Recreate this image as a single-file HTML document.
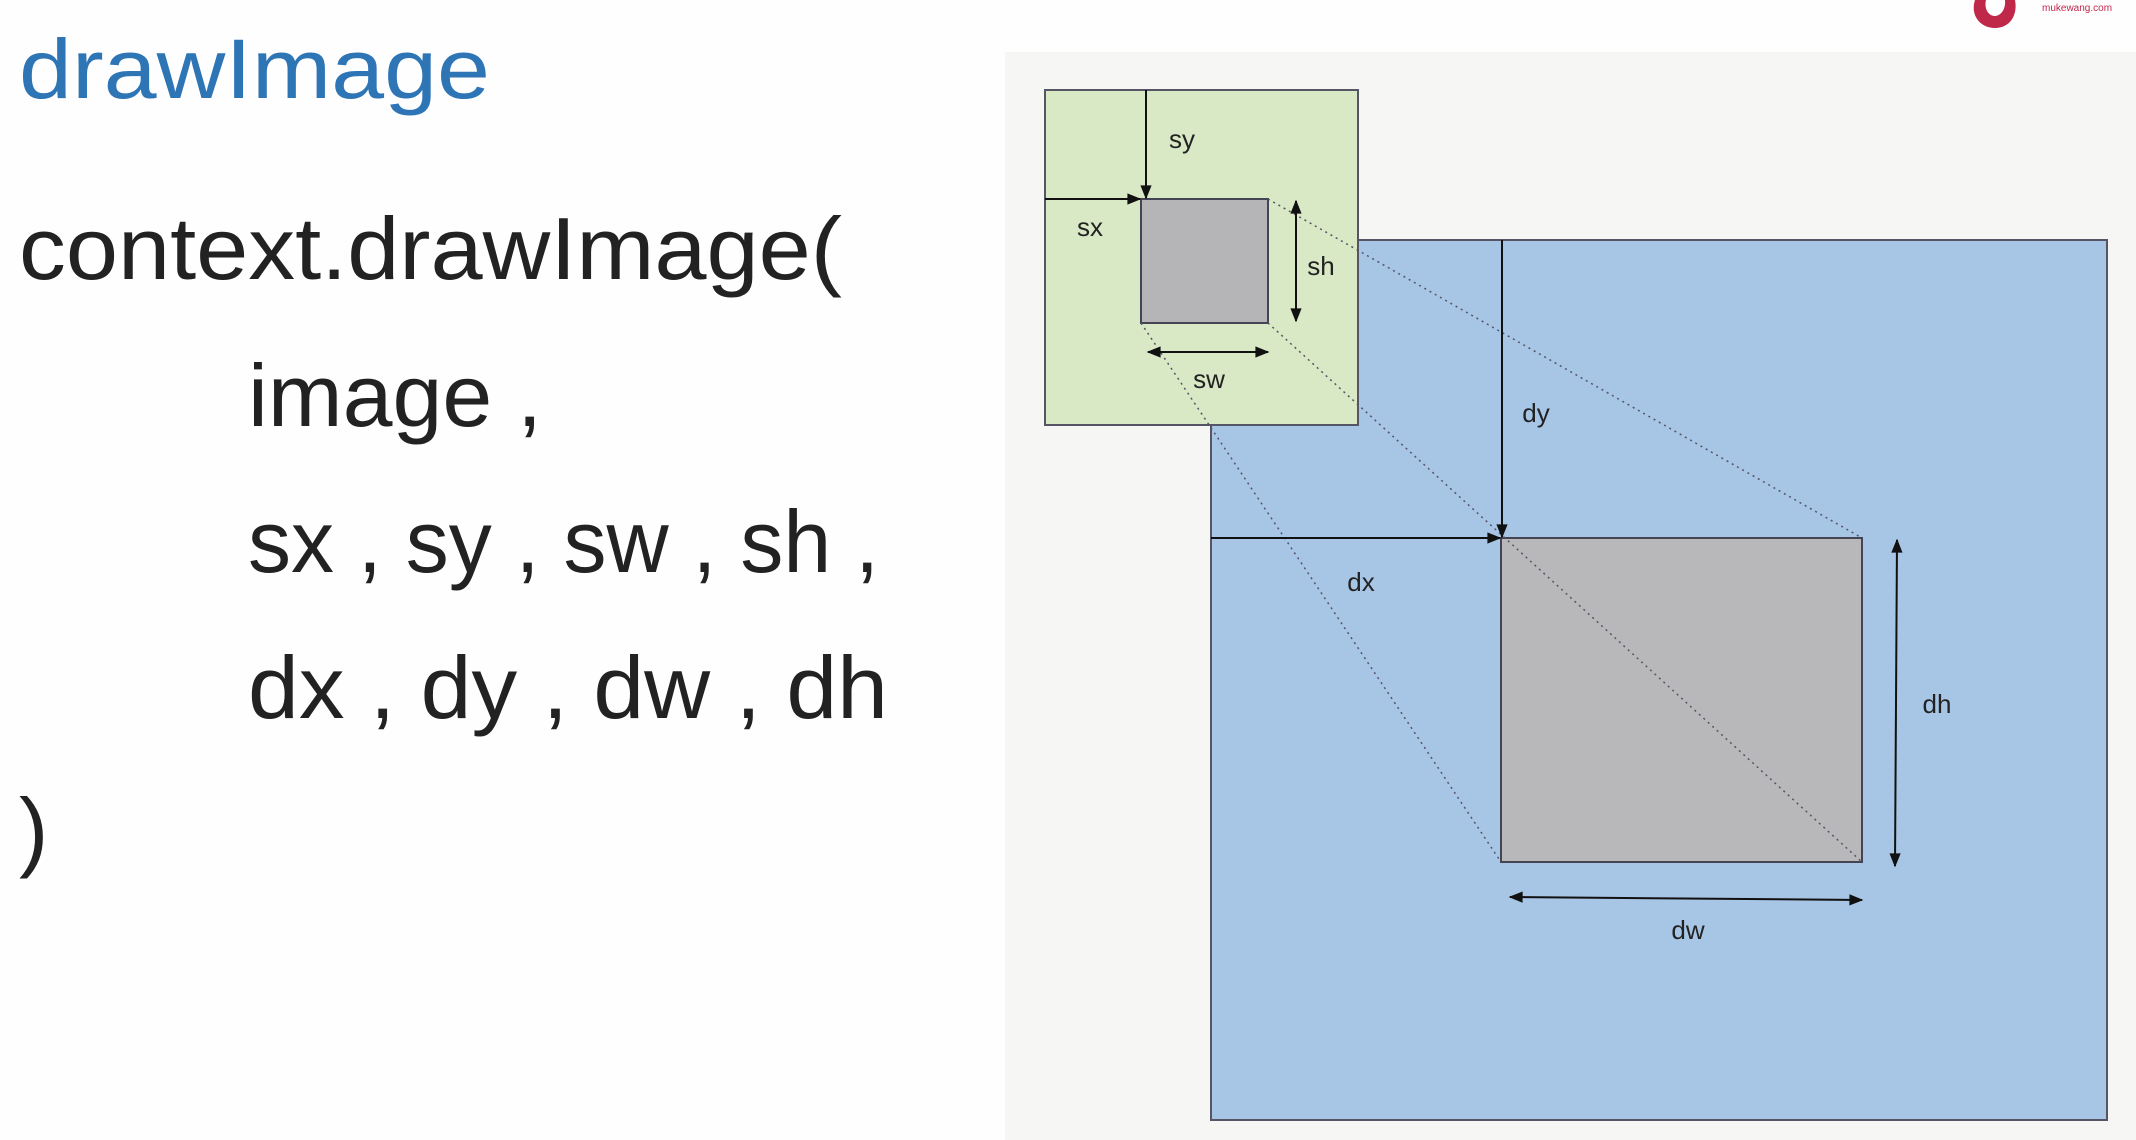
<!DOCTYPE html>
<html><head><meta charset="utf-8">
<style>
html,body{margin:0;padding:0;background:#fff;width:2136px;height:1140px;overflow:hidden}
svg{display:block}
text{font-family:"Liberation Sans","DejaVu Sans",sans-serif}
</style></head>
<body>
<svg width="2136" height="1140" viewBox="0 0 2136 1140">
<defs>
<marker id="ah" viewBox="0 0 10 10" refX="9" refY="5" markerWidth="16" markerHeight="14" orient="auto-start-reverse" markerUnits="userSpaceOnUse">
<path d="M0,1 L10,5 L0,9 z" fill="#111"/></marker>
</defs>
<rect width="2136" height="1140" fill="#fefefe"/>
<g fill="#222">
<text x="19" y="98" font-size="84" fill="#2e75b6" textLength="471" lengthAdjust="spacingAndGlyphs">drawImage</text>
<text x="19" y="279" font-size="88" textLength="823" lengthAdjust="spacingAndGlyphs">context.drawImage(</text>
<text x="248" y="426" font-size="88" textLength="294" lengthAdjust="spacingAndGlyphs">image ,</text>
<text x="248" y="572" font-size="88" textLength="631" lengthAdjust="spacingAndGlyphs">sx , sy , sw , sh ,</text>
<text x="248" y="718" font-size="88" textLength="640" lengthAdjust="spacingAndGlyphs">dx , dy , dw , dh</text>
<text x="19" y="860" font-size="88">)</text>
</g>
<g>
<path d="M1975,0 C1970,15 1980,28 1995,28 C2010,28 2018,15 2015,0 L2005,0 C2006,10 2000,16 1995,16 C1988,16 1984,8 1986,0 z" fill="#c0284a"/>
<text x="2042" y="11" font-size="10" fill="#c0284a">mukewang.com</text>
</g>
<rect x="1005" y="52" width="1131" height="1088" fill="#f6f6f5"/>
<g>
<rect x="1211" y="240" width="896" height="880" fill="#a7c5e5" stroke="#556" stroke-width="2"/>
<rect x="1045" y="90" width="313" height="335" fill="#d9e8c5" stroke="#556" stroke-width="2"/>
<rect x="1141" y="199" width="127" height="124" fill="#b5b5b8" stroke="#445" stroke-width="2"/>
<rect x="1501" y="538" width="361" height="324" fill="#b8b8ba" stroke="#445" stroke-width="2"/>
<g stroke="#556" stroke-width="1.5" stroke-dasharray="2,4">
<line x1="1268" y1="199" x2="1862" y2="538"/>
<line x1="1141" y1="323" x2="1501" y2="862"/>
<line x1="1268" y1="323" x2="1862" y2="862"/>
</g>
<g stroke="#111" stroke-width="2" fill="none">
<line x1="1146" y1="90" x2="1146" y2="198" marker-end="url(#ah)"/>
<line x1="1045" y1="199" x2="1140" y2="199" marker-end="url(#ah)"/>
<line x1="1296" y1="201" x2="1296" y2="321" marker-start="url(#ah)" marker-end="url(#ah)"/>
<line x1="1148" y1="352" x2="1268" y2="352" marker-start="url(#ah)" marker-end="url(#ah)"/>
<line x1="1502" y1="240" x2="1502" y2="537" marker-end="url(#ah)"/>
<line x1="1211" y1="538" x2="1500" y2="538" marker-end="url(#ah)"/>
<line x1="1897" y1="540" x2="1895" y2="866" marker-start="url(#ah)" marker-end="url(#ah)"/>
<line x1="1510" y1="897" x2="1862" y2="900" marker-start="url(#ah)" marker-end="url(#ah)"/>
</g>
<g font-size="26" fill="#222" text-anchor="middle">
<text x="1182" y="148">sy</text>
<text x="1090" y="236">sx</text>
<text x="1321" y="275">sh</text>
<text x="1209" y="388">sw</text>
<text x="1536" y="422">dy</text>
<text x="1361" y="591">dx</text>
<text x="1937" y="713">dh</text>
<text x="1688" y="939">dw</text>
</g>
</g>
</svg>
</body></html>
